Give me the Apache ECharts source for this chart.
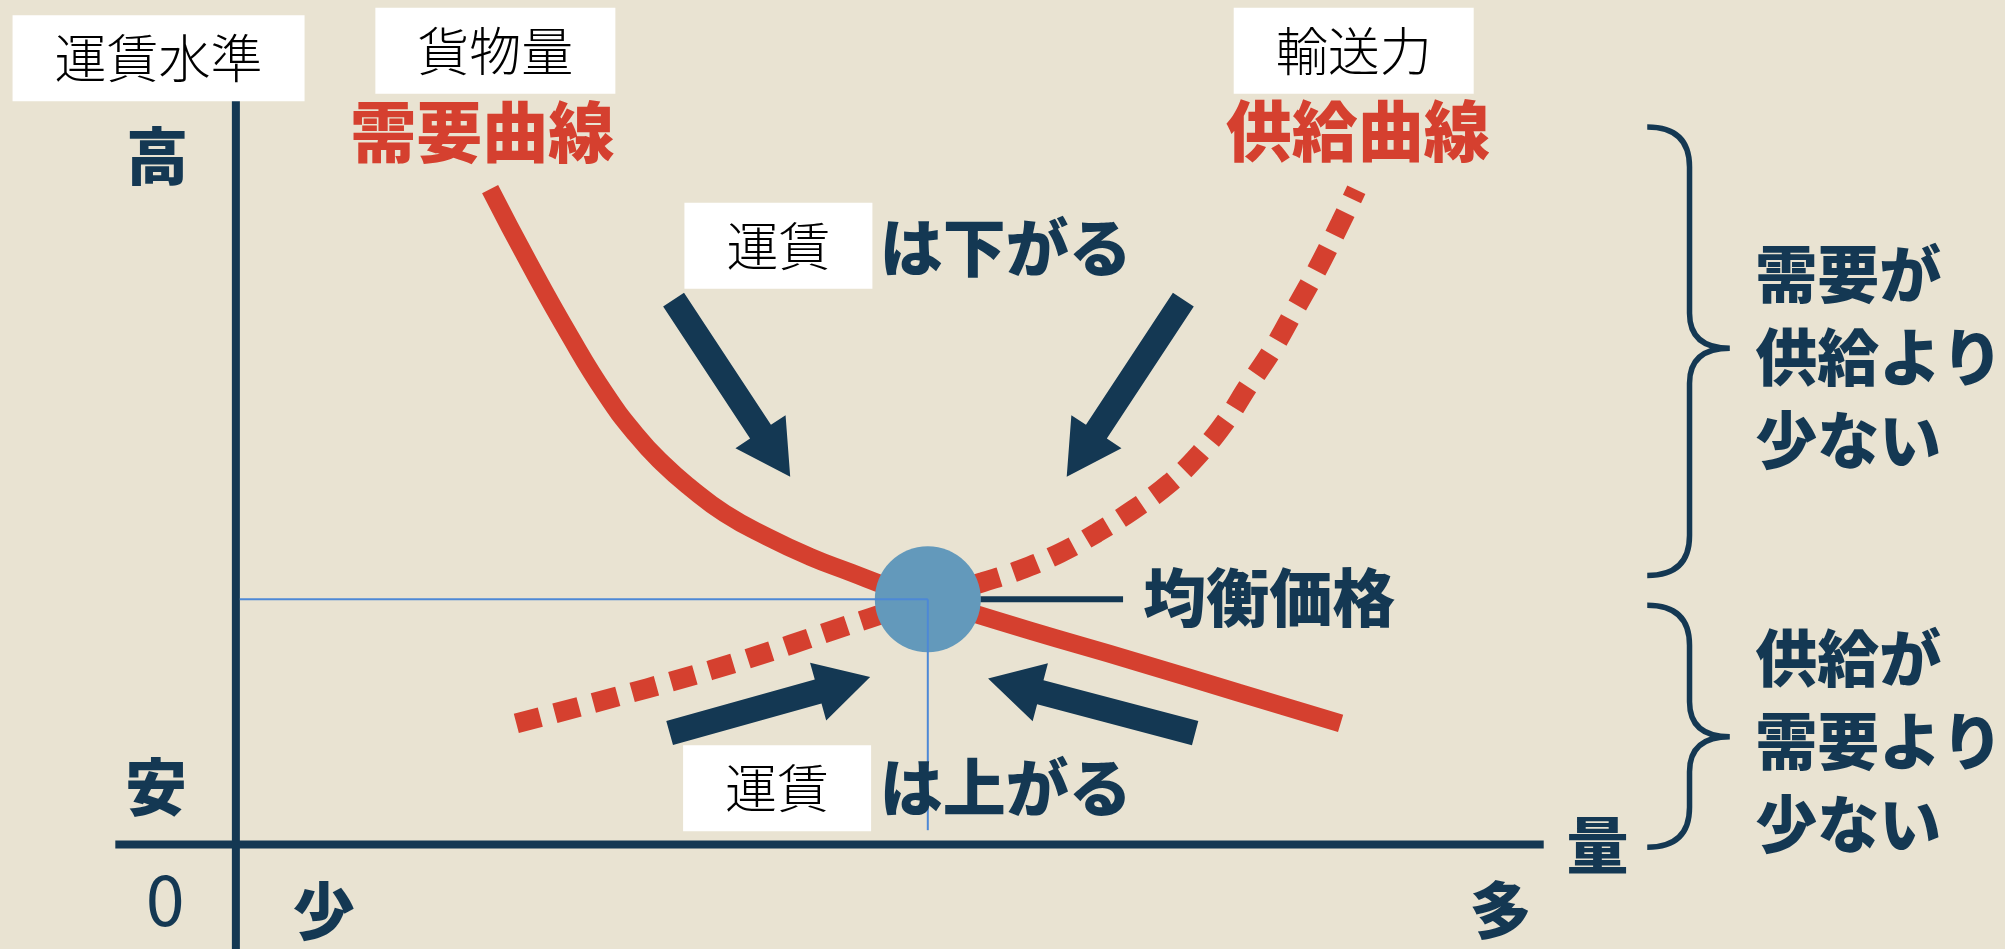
<!DOCTYPE html>
<html>
<head>
<meta charset="utf-8">
<title>運賃水準と需要・供給曲線</title>
<script src="https://cdn.jsdelivr.net/npm/echarts@6/dist/echarts.min.js"></script>
<style>
  html, body { margin: 0; padding: 0; background: #e9e3d2; }
  #chart { width: 2005px; height: 949px; }
</style>
</head>
<body>
<div id="chart"></div>
<script>
// Quantity (x) and freight level (y) in chart units; 0 is where the axes cross.
const quantityRange = [-18, 135];
const freightRange = [-14, 113];

// Demand curve (cargo volume) — solid red
const demandCurve = [
  [19.4, 87.7], [22.4, 77.7], [25.5, 68], [28.2, 60.3], [30.5, 54.9],
  [32.5, 51.1], [34.7, 47.7], [37.3, 44.3], [40.5, 41.2], [43.8, 38.5],
  [46.9, 36.4], [49.9, 34.4], [52.8, 32.8], [60.6, 28.6], [68.6, 24.5],
  [76.5, 20.3], [84.3, 16.2]
];

// Supply curve (transport capacity) — dashed red
const supplyCurve = [
  [21.4, 16.2], [36.2, 23.3], [48.4, 30.3], [52.8, 32.8], [57, 35.1],
  [59.8, 36.7], [62.9, 39], [65.7, 41.7], [68.5, 44.8], [71.3, 48.4],
  [73.6, 52.4], [75.6, 56.8], [77.2, 61.2], [79.1, 66.2], [80.8, 71.5],
  [82.5, 76.9], [84.3, 83.2], [85.5, 87.6]
];

// Equilibrium point
const equilibrium = [52.8, 32.8];

// Axis lines
const verticalAxis = [[0, -14], [0, 99.7]];
const horizontalAxis = [[-9.2, 0], [99.8, 0]];

// Thin guides from the equilibrium to the axes
const priceGuide = [[0.3, 32.8], [52.8, 32.8]];
const quantityGuide = [[52.8, 32.8], [52.8, 1.9]];

// Leader line to the 均衡価格 label
const leaderLine = [[56.8, 32.8], [67.7, 32.8]];

// Arrows: [fromX, fromY, toX, toY]
const arrows = [
  [33.4, 72.9, 42.3, 49.2],
  [72.3, 72.9, 63.4, 49.2],
  [33.1, 14.9, 48.4, 22.4],
  [73.2, 14.9, 57.4, 22.2]
];

// Braces: [leftX, tipX, topY, bottomY, tipY]
const braces = [
  [107.7, 114.0, 96.0, 36.0, 66.4],
  [107.7, 114.0, 32.0, -0.4, 14.4]
];

// Text annotations: [text, x, y, style]
const labels = [
  ['運賃水準', -5.9, 105.2, 'box'],
  ['貨物量', 19.8, 106.2, 'box'],
  ['輸送力', 85.3, 106.2, 'box'],
  ['需要曲線', 18.8, 95.3, 'curve'],
  ['供給曲線', 85.6, 95.5, 'curve'],
  ['高', -6.0, 92.0, 'axisWord'],
  ['安', -6.1, 7.6, 'axisWord'],
  ['0', -5.4, -7.3, 'zero'],
  ['少', 6.7, -9.0, 'axisWord'],
  ['多', 96.5, -8.9, 'axisWord'],
  ['量', 103.9, -0.1, 'axisWord'],
  ['は下がる', 49.1, 80.0, 'note'],
  ['は上がる', 49.1, 7.7, 'note'],
  ['運賃', 41.4, 80.1, 'box'],
  ['運賃', 41.3, 7.5, 'box'],
  ['均衡価格', 69.2, 33.1, 'note'],
  ['需要が\n供給より\n少ない', 115.9, 65.2, 'side'],
  ['供給が\n需要より\n少ない', 115.9, 13.8, 'side']
];

const NAVY = '#143853';
const RED = '#d5402f';
const DOT = '#6399bb';
const GUIDE = '#4d88d6';
const FONT = "'Noto Sans CJK JP', 'Noto Sans', sans-serif";

const plain = { textBorderWidth: 0, textShadowBlur: 0, opacity: 1 };
const labelStyles = {
  box: { position: 'inside', color: '#000', fontSize: 52, lineHeight: 52, fontWeight: 300,
         backgroundColor: '#ffffff', padding: [17, 42] },
  curve: { position: 'inside', color: RED, fontSize: 66, fontWeight: 900 },
  axisWord: { position: 'inside', color: NAVY, fontSize: 62, fontWeight: 900 },
  zero: { position: 'inside', color: NAVY, fontSize: 70, fontWeight: 'normal' },
  note: { position: 'right', distance: 0, color: NAVY, fontSize: 63, fontWeight: 900 },
  side: { position: 'right', distance: 0, color: NAVY, fontSize: 62, lineHeight: 83, fontWeight: 900 }
};

function lineSeries(data, width, color, extra) {
  return Object.assign({
    type: 'line', data: data, symbol: 'none', silent: true,
    lineStyle: { width: width, color: color, cap: 'butt' }
  }, extra || {});
}

function renderArrow(params, api) {
  const s = api.coord([api.value(0), api.value(1)]);
  const t = api.coord([api.value(2), api.value(3)]);
  const dx = t[0] - s[0], dy = t[1] - s[1];
  const len = Math.sqrt(dx * dx + dy * dy);
  const ux = dx / len, uy = dy / len;
  const nx = -uy, ny = ux;
  const shaft = 25 / 2, head = 60 / 2, headLen = 54;
  const bx = t[0] - ux * headLen, by = t[1] - uy * headLen;
  return {
    type: 'polygon',
    shape: { points: [
      [s[0] + nx * shaft, s[1] + ny * shaft],
      [bx + nx * shaft, by + ny * shaft],
      [bx + nx * head, by + ny * head],
      [t[0], t[1]],
      [bx - nx * head, by - ny * head],
      [bx - nx * shaft, by - ny * shaft],
      [s[0] - nx * shaft, s[1] - ny * shaft]
    ] },
    style: { fill: NAVY }
  };
}

function renderBrace(params, api) {
  const top = api.coord([api.value(0), api.value(2)]);
  const bottom = api.coord([api.value(0), api.value(3)]);
  const tip = api.coord([api.value(1), api.value(4)]);
  const x0 = top[0], x2 = tip[0], x1 = (x0 + x2) / 2 + 1;
  const r = 40, rt = 35;
  const path = [
    'M', x0, top[1],
    'Q', x1, top[1], x1, top[1] + r,
    'L', x1, tip[1] - rt,
    'Q', x1, tip[1], x2, tip[1],
    'Q', x1, tip[1], x1, tip[1] + rt,
    'L', x1, bottom[1] - r,
    'Q', x1, bottom[1], x0, bottom[1]
  ].join(' ');
  return {
    type: 'path',
    shape: { pathData: path },
    style: { fill: null, stroke: NAVY, lineWidth: 5.5 }
  };
}

const chart = echarts.init(document.getElementById('chart'), null, { renderer: 'canvas' });

chart.setOption({
  backgroundColor: '#e9e3d2',
  animation: false,
  textStyle: { fontFamily: FONT },
  grid: { left: 0, right: 0, top: 0, bottom: 0, containLabel: false },
  xAxis: { type: 'value', min: quantityRange[0], max: quantityRange[1], show: false },
  yAxis: { type: 'value', min: freightRange[0], max: freightRange[1], show: false },
  series: [
    lineSeries(verticalAxis, 8, NAVY, { z: 2 }),
    lineSeries(horizontalAxis, 8, NAVY, { z: 2 }),
    lineSeries(demandCurve, 18, RED, { smooth: 0.5, z: 3 }),
    lineSeries(supplyCurve, 20, RED, { smooth: 0.4, z: 3,
      lineStyle: { width: 20, color: RED, cap: 'butt', type: [25, 15] } }),
    {
      type: 'custom', renderItem: renderArrow, data: arrows, silent: true, z: 3,
      encode: { x: [0, 2], y: [1, 3] }
    },
    {
      type: 'custom', renderItem: renderBrace, data: braces, silent: true, z: 3,
      encode: { x: [0, 1], y: [2, 3] }
    },
    lineSeries(leaderLine, 6, NAVY, { z: 3 }),
    {
      type: 'scatter', data: [equilibrium], symbol: 'circle', symbolSize: 106,
      itemStyle: { color: DOT, opacity: 1 }, silent: true, z: 4
    },
    lineSeries(priceGuide, 2, GUIDE, { z: 5 }),
    lineSeries(quantityGuide, 2, GUIDE, { z: 5 }),
    {
      type: 'scatter', silent: true, z: 6, symbolSize: 1,
      itemStyle: { color: 'rgba(0,0,0,0)' },
      data: labels.map(function (l) {
        return {
          value: [l[1], l[2]],
          label: Object.assign({ show: true, formatter: l[0], fontFamily: FONT }, plain, labelStyles[l[3]])
        };
      })
    }
  ]
});
</script>
</body>
</html>
